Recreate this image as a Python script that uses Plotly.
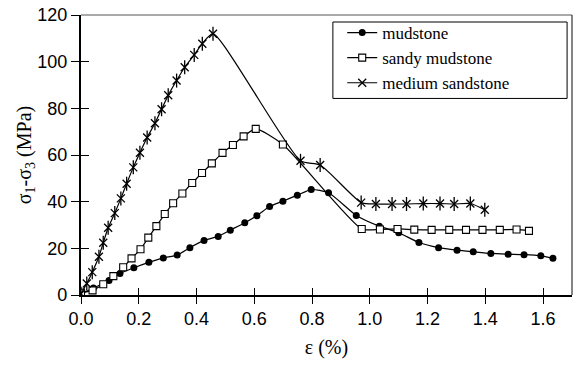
import plotly.graph_objects as go

# ---- data ----
mud_x = [0.0, 0.043, 0.097, 0.135, 0.183, 0.235, 0.285, 0.333, 0.377, 0.426, 0.475, 0.517, 0.567, 0.609, 0.653, 0.699, 0.749, 0.797, 0.857, 0.953, 1.033, 1.100, 1.170, 1.238, 1.302, 1.358, 1.419, 1.479, 1.534, 1.592, 1.634]
mud_y = [0.5, 3.0, 6.2, 9.2, 11.7, 14.0, 15.9, 17.1, 20.3, 23.4, 25.1, 27.8, 31.0, 34.0, 37.9, 40.2, 42.8, 45.2, 43.8, 34.1, 29.5, 26.7, 22.5, 20.3, 19.2, 18.5, 17.8, 17.5, 17.3, 16.8, 15.7]

sandy_x = [0.0, 0.040, 0.077, 0.112, 0.146, 0.175, 0.206, 0.233, 0.261, 0.290, 0.319, 0.351, 0.385, 0.419, 0.453, 0.490, 0.526, 0.563, 0.605, 0.699, 0.972, 1.035, 1.096, 1.154, 1.214, 1.275, 1.333, 1.390, 1.450, 1.508, 1.551]
sandy_y = [1.0, 2.0, 4.6, 8.1, 11.9, 15.7, 19.6, 24.6, 29.5, 34.7, 39.3, 43.5, 48.0, 52.3, 56.4, 60.9, 64.3, 68.0, 71.2, 64.5, 28.3, 28.1, 28.3, 28.0, 27.9, 27.9, 27.9, 27.9, 27.9, 28.1, 27.5]

sand_x = [0.0, 0.02, 0.039, 0.062, 0.077, 0.094, 0.117, 0.138, 0.158, 0.181, 0.204, 0.229, 0.256, 0.279, 0.302, 0.331, 0.359, 0.392, 0.420, 0.457, 0.760, 0.828, 0.970, 1.021, 1.077, 1.127, 1.185, 1.243, 1.292, 1.348, 1.398]
sand_y = [0.5, 4.9, 9.8, 16.4, 22.4, 28.8, 35.1, 41.4, 47.7, 54.7, 61.0, 67.5, 73.6, 79.6, 85.6, 91.9, 97.6, 102.9, 107.7, 112.0, 57.5, 55.7, 39.6, 39.0, 39.0, 39.0, 39.2, 39.2, 39.0, 39.2, 36.5]

names = ["mudstone", "sandy mudstone", "medium sandstone"]
x_ticks = [0.0, 0.2, 0.4, 0.6, 0.8, 1.0, 1.2, 1.4, 1.6]
x_ticklabels = ["0.0", "0.2", "0.4", "0.6", "0.8", "1.0", "1.2", "1.4", "1.6"]
y_ticks = [0, 20, 40, 60, 80, 100, 120]

SERIF = "Liberation Serif"
SANS = "Liberation Sans"
LINE = dict(color="black", width=1.2, shape="spline", smoothing=0.6)

fig = go.Figure()
fig.add_trace(go.Scatter(x=mud_x, y=mud_y, name=names[0], mode="lines+markers",
                         line=LINE,
                         marker=dict(symbol="circle", size=7, color="black")))
fig.add_trace(go.Scatter(x=sandy_x, y=sandy_y, name=names[1], mode="lines+markers",
                         line=LINE,
                         marker=dict(symbol="square", size=7, color="white",
                                     line=dict(color="black", width=1.1))))
fig.add_trace(go.Scatter(x=sand_x, y=sand_y, name=names[2], mode="lines+markers",
                         line=LINE,
                         marker=dict(symbol="x-thin-open", size=8, color="black",
                                     line=dict(color="black", width=1.3))))
# vertical stroke of the star marker
fig.add_trace(go.Scatter(x=sand_x, y=sand_y, mode="markers", showlegend=False,
                         hoverinfo="skip",
                         marker=dict(symbol="line-ns-open", size=10, color="black",
                                     line=dict(color="black", width=1.3))))

axis_common = dict(showgrid=False, zeroline=False, color="black",
                   tickcolor="black", tickwidth=1.3)

fig.update_layout(
    width=577, height=365,
    margin=dict(l=81, r=5, t=10, b=70),
    paper_bgcolor="white", plot_bgcolor="white",
    font=dict(family=SERIF, color="black"),
    showlegend=True,
    legend=dict(x=0.532, y=1.0, xanchor="left", yanchor="top",
                bgcolor="rgba(0,0,0,0)", borderwidth=0,
                font=dict(family=SERIF, size=17, color="black"),
                itemwidth=30),
    xaxis=dict(range=[0, 1.7], tickvals=x_ticks, ticktext=x_ticklabels,
               ticks="outside", ticklen=7, showline=True, linewidth=1.6, linecolor="black",
               tickfont=dict(family=SANS, size=18, color="black"),
               title=dict(text="ε (%)", font=dict(family=SERIF, size=20, color="black"), standoff=12),
               **axis_common),
    yaxis=dict(range=[0, 120], tickvals=y_ticks,
               ticks="outside", ticklen=8, showline=True, linewidth=2.2, linecolor="black",
               tickfont=dict(family=SANS, size=18, color="black"),
               title=dict(text="σ<sub>1</sub>-σ<sub>3</sub> (MPa)", font=dict(family=SERIF, size=20, color="black"), standoff=0),
               **axis_common),
    xaxis2=dict(range=[0, 1.7], tickvals=x_ticks, overlaying="x", side="bottom",
                ticks="inside", ticklen=7, showticklabels=False, showline=False,
                matches="x", **axis_common),
    yaxis2=dict(range=[0, 120], tickvals=y_ticks, overlaying="y", side="left",
                ticks="inside", ticklen=8, showticklabels=False, showline=False,
                matches="y", **axis_common),
)
# dummy invisible trace to activate inner tick axes
fig.add_trace(go.Scatter(x=[None], y=[None], xaxis="x2", yaxis="y2", showlegend=False, hoverinfo="skip"))

# thin frame on top and right
fig.add_shape(type="line", xref="x domain", yref="y domain", x0=0, x1=1, y0=1, y1=1,
              line=dict(color="#555555", width=1))
fig.add_shape(type="line", xref="x domain", yref="y domain", x0=1, x1=1, y0=0, y1=1,
              line=dict(color="#333333", width=1.2))
# legend frame
fig.add_shape(type="rect", xref="paper", yref="paper", x0=0.513, x1=0.990, y0=0.702, y1=0.975,
              line=dict(color="black", width=1), fillcolor="rgba(0,0,0,0)", layer="above")

fig.write_html("out.html")
